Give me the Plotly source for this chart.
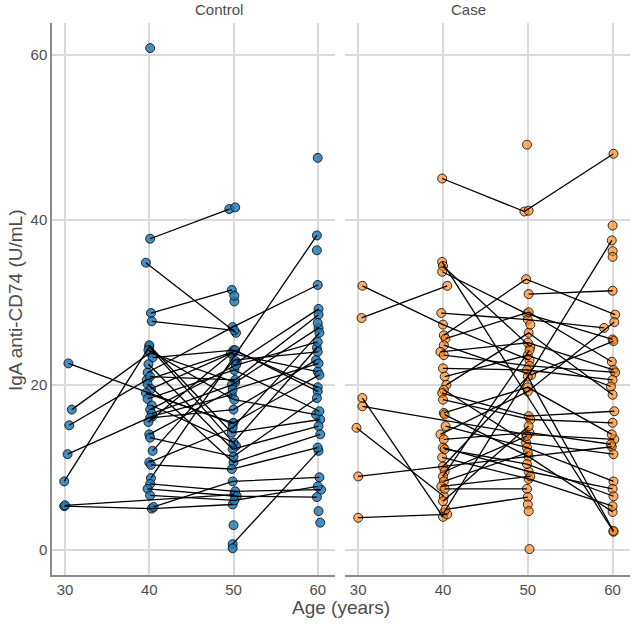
import plotly.graph_objects as go

# Control group: subject id, jittered age, IgA anti-CD74 (U/mL)
ctrl_id = [1, 2, 2, 3, 4, 5, 5, 6, 6, 7, 8, 8, 8, 9, 9, 10, 10, 11, 11, 12,
           13, 13, 14, 14, 14, 15, 15, 15, 16, 16, 16, 17, 17, 17, 18, 18, 18,
           19, 19, 20, 20, 20, 21, 21, 21, 22, 22, 22, 23, 23, 23, 24, 24, 25, 26, 27, 28,
           29, 29, 29, 30, 30, 30, 31, 31, 31, 32, 32, 32, 33, 33, 33, 34, 34, 34,
           35, 35, 35, 36, 36, 36, 37, 37, 37, 38, 38, 38, 39, 39, 39, 40, 40, 40,
           41, 41, 41, 42, 42, 42, 43, 43, 43, 44, 44, 44, 45, 45, 45, 46, 46, 46,
           47, 47, 47, 48, 49]
ctrl_age = [40.1, 40.1, 49.5, 50.2, 60.0, 39.6, 50.3, 40.2, 59.9, 59.9, 39.8, 49.9, 60.0, 50.4, 60.1, 40.2, 49.8, 40.3, 50.1, 50.1,
            30.4, 49.9, 30.8, 40.1, 50.2, 30.5, 39.7, 50.0, 30.3, 40.4, 49.8, 29.9, 40.0, 50.3, 29.9, 40.3, 49.9,
            30.0, 50.1, 40.5, 49.9, 60.2, 40.1, 50.2, 60.4, 39.8, 50.4, 59.9, 40.1, 50.1, 60.0, 49.9, 60.1, 49.9, 50.0, 60.1, 60.3,
            40.0, 49.8, 60.3, 39.9, 50.1, 59.8, 40.4, 50.0, 60.0, 39.9, 49.9, 60.1, 40.1, 50.2, 60.1, 39.8, 50.0, 60.3,
            40.2, 49.7, 60.0, 39.6, 50.0, 60.2, 39.8, 50.1, 60.2, 40.3, 50.0, 59.9, 40.1, 50.3, 60.0, 40.3, 49.8, 60.1,
            40.1, 50.0, 59.8, 39.9, 50.2, 60.0, 40.0, 49.9, 60.1, 40.1, 50.0, 59.9, 40.4, 50.1, 60.0, 40.0, 49.9, 60.2,
            40.2, 49.8, 60.0, 60.0, 50.1]
ctrl_val = [60.8, 37.7, 41.3, 41.5, 47.5, 34.8, 26.3, 8.7, 38.1, 36.3, 21.5, 27.0, 32.1, 22.7, 29.2, 28.7, 31.5, 27.7, 26.6, 30.1,
            22.6, 15.3, 17.0, 23.9, 20.3, 15.1, 20.6, 24.0, 11.6, 16.2, 18.8, 8.3, 24.6, 12.6, 5.3, 5.0, 5.5,
            5.4, 6.7, 5.2, 8.3, 8.8, 8.0, 7.1, 7.3, 7.4, 6.5, 6.4, 6.6, 6.0, 7.7, 0.7, 12.0, 0.2, 3.0, 4.7, 3.3,
            24.8, 14.2, 15.8, 24.2, 18.2, 16.4, 23.3, 24.2, 19.7, 22.5, 12.2, 15.0, 21.0, 20.6, 28.5, 20.1, 10.6, 14.0,
            19.5, 23.8, 21.6, 19.0, 15.4, 21.2, 18.3, 21.8, 16.8, 17.5, 13.0, 24.5, 17.0, 22.4, 25.2, 16.5, 20.0, 26.9,
            16.0, 17.0, 23.0, 15.5, 24.2, 19.2, 14.0, 19.4, 22.6, 13.6, 11.3, 18.4, 12.0, 23.0, 24.0, 10.6, 14.8, 26.3,
            10.3, 9.8, 12.4, 27.5, 30.8]

# Case group
case_id = [1, 1, 1, 2, 3, 4, 5, 5, 6, 7, 8, 8, 8, 9, 9, 10, 10, 11, 11, 12, 12, 12,
           13, 13, 13, 14, 14, 15, 15, 16, 16, 16, 17, 17, 18, 18, 19, 19,
           20, 20, 20, 21, 21, 21, 22, 22, 22, 23, 23, 23, 24, 24, 24, 25, 25, 25,
           26, 26, 26, 27, 27, 27, 28, 28, 28, 29, 29, 29, 30, 30, 30, 31, 31, 31,
           32, 32, 32, 33, 33, 33, 34, 34, 34, 35, 35, 35, 36, 36, 36, 37, 37, 37,
           38, 38, 38, 39, 39, 39, 40, 40, 41, 41, 42, 42, 43, 43, 44, 44, 45, 45,
           46, 46, 47, 48, 49, 50]
case_age = [39.9, 49.6, 60.1, 50.1, 49.9, 60.0, 40.1, 59.9, 60.0, 60.0, 30.5, 40.0, 50.2, 30.4, 40.5, 39.9, 60.1, 40.0, 50.3, 39.9, 49.9, 60.0,
            40.1, 49.8, 60.3, 50.1, 60.0, 30.5, 40.0, 30.5, 49.8, 60.2, 29.8, 40.1, 30.0, 59.9, 30.0, 40.5,
            39.8, 50.0, 59.0, 40.3, 50.1, 59.9, 40.1, 50.4, 60.1, 39.7, 50.0, 60.1, 40.1, 50.2, 60.3, 40.0, 49.9, 60.0,
            40.2, 50.0, 59.8, 40.4, 50.1, 60.0, 40.1, 49.8, 60.1, 39.9, 50.1, 60.2, 40.0, 50.3, 60.0, 40.1, 50.0, 59.9,
            40.2, 50.1, 60.0, 40.3, 49.9, 60.1, 39.7, 50.0, 60.2, 40.1, 50.2, 59.8, 40.0, 50.1, 60.0, 40.2, 49.9, 60.1,
            39.9, 50.1, 60.0, 40.0, 50.0, 60.1, 40.2, 49.9, 40.0, 50.2, 40.1, 50.0, 39.8, 50.3, 40.2, 49.9, 40.0, 50.1,
            40.3, 50.0, 50.0, 50.1, 50.2, 50.3]
case_val = [45.0, 41.0, 48.0, 41.1, 49.1, 39.3, 4.5, 37.5, 36.2, 35.5, 32.0, 27.3, 23.0, 28.1, 32.0, 34.9, 2.2, 34.4, 24.6, 33.7, 28.6, 25.5,
            26.0, 32.8, 28.5, 31.0, 31.4, 18.4, 4.0, 17.4, 14.0, 13.4, 14.8, 6.5, 8.9, 12.5, 3.9, 4.3,
            28.7, 27.9, 26.9, 25.6, 28.8, 22.8, 24.8, 21.2, 25.3, 24.0, 25.1, 21.8, 23.6, 22.3, 21.5, 22.0, 21.8, 20.6,
            21.0, 23.6, 19.8, 20.0, 26.3, 18.8, 19.4, 13.0, 11.6, 19.0, 16.2, 16.8, 18.2, 15.8, 15.4, 16.6, 19.7, 14.0,
            16.4, 11.3, 4.6, 15.0, 12.4, 8.3, 14.0, 19.2, 27.6, 13.4, 14.2, 12.8, 12.4, 9.5, 7.4, 12.2, 10.4, 6.5,
            11.2, 8.6, 5.3, 10.1, 21.0, 2.3, 9.5, 13.8, 8.9, 24.2, 8.3, 11.8, 7.7, 8.9, 7.4, 7.4, 5.9, 15.0,
            4.9, 6.4, 5.5, 4.7, 0.1, 27.3]

x_ticks = [30, 40, 50, 60]
y_ticks = [0, 20, 40, 60]

FONT = "Liberation Sans, Arial, sans-serif"
GRID = "#d9d9d9"


def line_xy(ids, ages, vals):
    # join each subject's visits with a line, subjects split by None
    xs, ys = [], []
    for sid in dict.fromkeys(ids):
        pts = [(a, v) for i, a, v in zip(ids, ages, vals) if i == sid]
        if len(pts) < 2:
            continue
        pts.sort()
        xs += [p[0] for p in pts] + [None]
        ys += [p[1] for p in pts] + [None]
    return xs, ys


fig = go.Figure()
panels = [
    (ctrl_id, ctrl_age, ctrl_val, "rgba(31,119,180,0.82)", "x", "y"),
    (case_id, case_age, case_val, "rgba(255,127,14,0.62)", "x2", "y2"),
]
for ids, ages, vals, col, xa, ya in panels:
    fig.add_trace(go.Scatter(
        x=ages, y=vals, mode="markers", xaxis=xa, yaxis=ya,
        marker=dict(size=9, color=col, line=dict(color="black", width=0.8)),
        showlegend=False, hoverinfo="skip",
    ))
    lx, ly = line_xy(ids, ages, vals)
    fig.add_trace(go.Scatter(
        x=lx, y=ly, mode="lines", xaxis=xa, yaxis=ya,
        line=dict(color="black", width=1.3),
        showlegend=False, hoverinfo="skip",
    ))

xcommon = dict(range=[28.45, 62.05], tickvals=x_ticks, showgrid=True, gridcolor=GRID, gridwidth=1.5,
               zeroline=False, showline=True, linecolor="#8c8c8c", linewidth=1.5,
               ticks="", tickfont=dict(size=15, color="#4d4d4d", family=FONT))
ycommon = dict(range=[-3.04, 63.84], tickvals=y_ticks, showgrid=True, gridcolor=GRID, gridwidth=1.5,
               zeroline=False, ticks="", tickfont=dict(size=15, color="#4d4d4d", family=FONT))

fig.update_layout(
    width=633, height=624,
    margin=dict(l=52, r=3, t=23, b=49),
    plot_bgcolor="white", paper_bgcolor="white",
    font=dict(family=FONT, color="#4d4d4d"),
    xaxis=dict(domain=[0, 0.4896], anchor="y", **xcommon),
    xaxis2=dict(domain=[0.507, 1], anchor="y2", **xcommon),
    yaxis=dict(domain=[0, 1], anchor="x", showline=True, linecolor="#8c8c8c", linewidth=1.5, **ycommon),
    yaxis2=dict(domain=[0, 1], anchor="x2", showline=False, showticklabels=False, **ycommon),
    annotations=[
        dict(text="Control", x=0.2448, y=1.0236, xref="paper", yref="paper", showarrow=False,
             font=dict(size=15, color="#4d4d4d", family=FONT), yanchor="middle"),
        dict(text="Case", x=0.7535, y=1.0236, xref="paper", yref="paper", showarrow=False,
             font=dict(size=15, color="#4d4d4d", family=FONT), yanchor="middle"),
        dict(text="Age (years)", x=0.5, y=-0.058, xref="paper", yref="paper", showarrow=False,
             font=dict(size=19, color="#4d4d4d", family=FONT), yanchor="middle"),
        dict(text="IgA anti-CD74 (U/mL)", x=-0.064, y=0.498, xref="paper", yref="paper", showarrow=False,
             textangle=-90, font=dict(size=19, color="#4d4d4d", family=FONT), xanchor="center"),
    ],
)

# drop the browser's default 8px body margin so the figure fills the window
fig.write_html("out.html", config={"displayModeBar": False},
               post_script="document.body.style.margin='0px';")
